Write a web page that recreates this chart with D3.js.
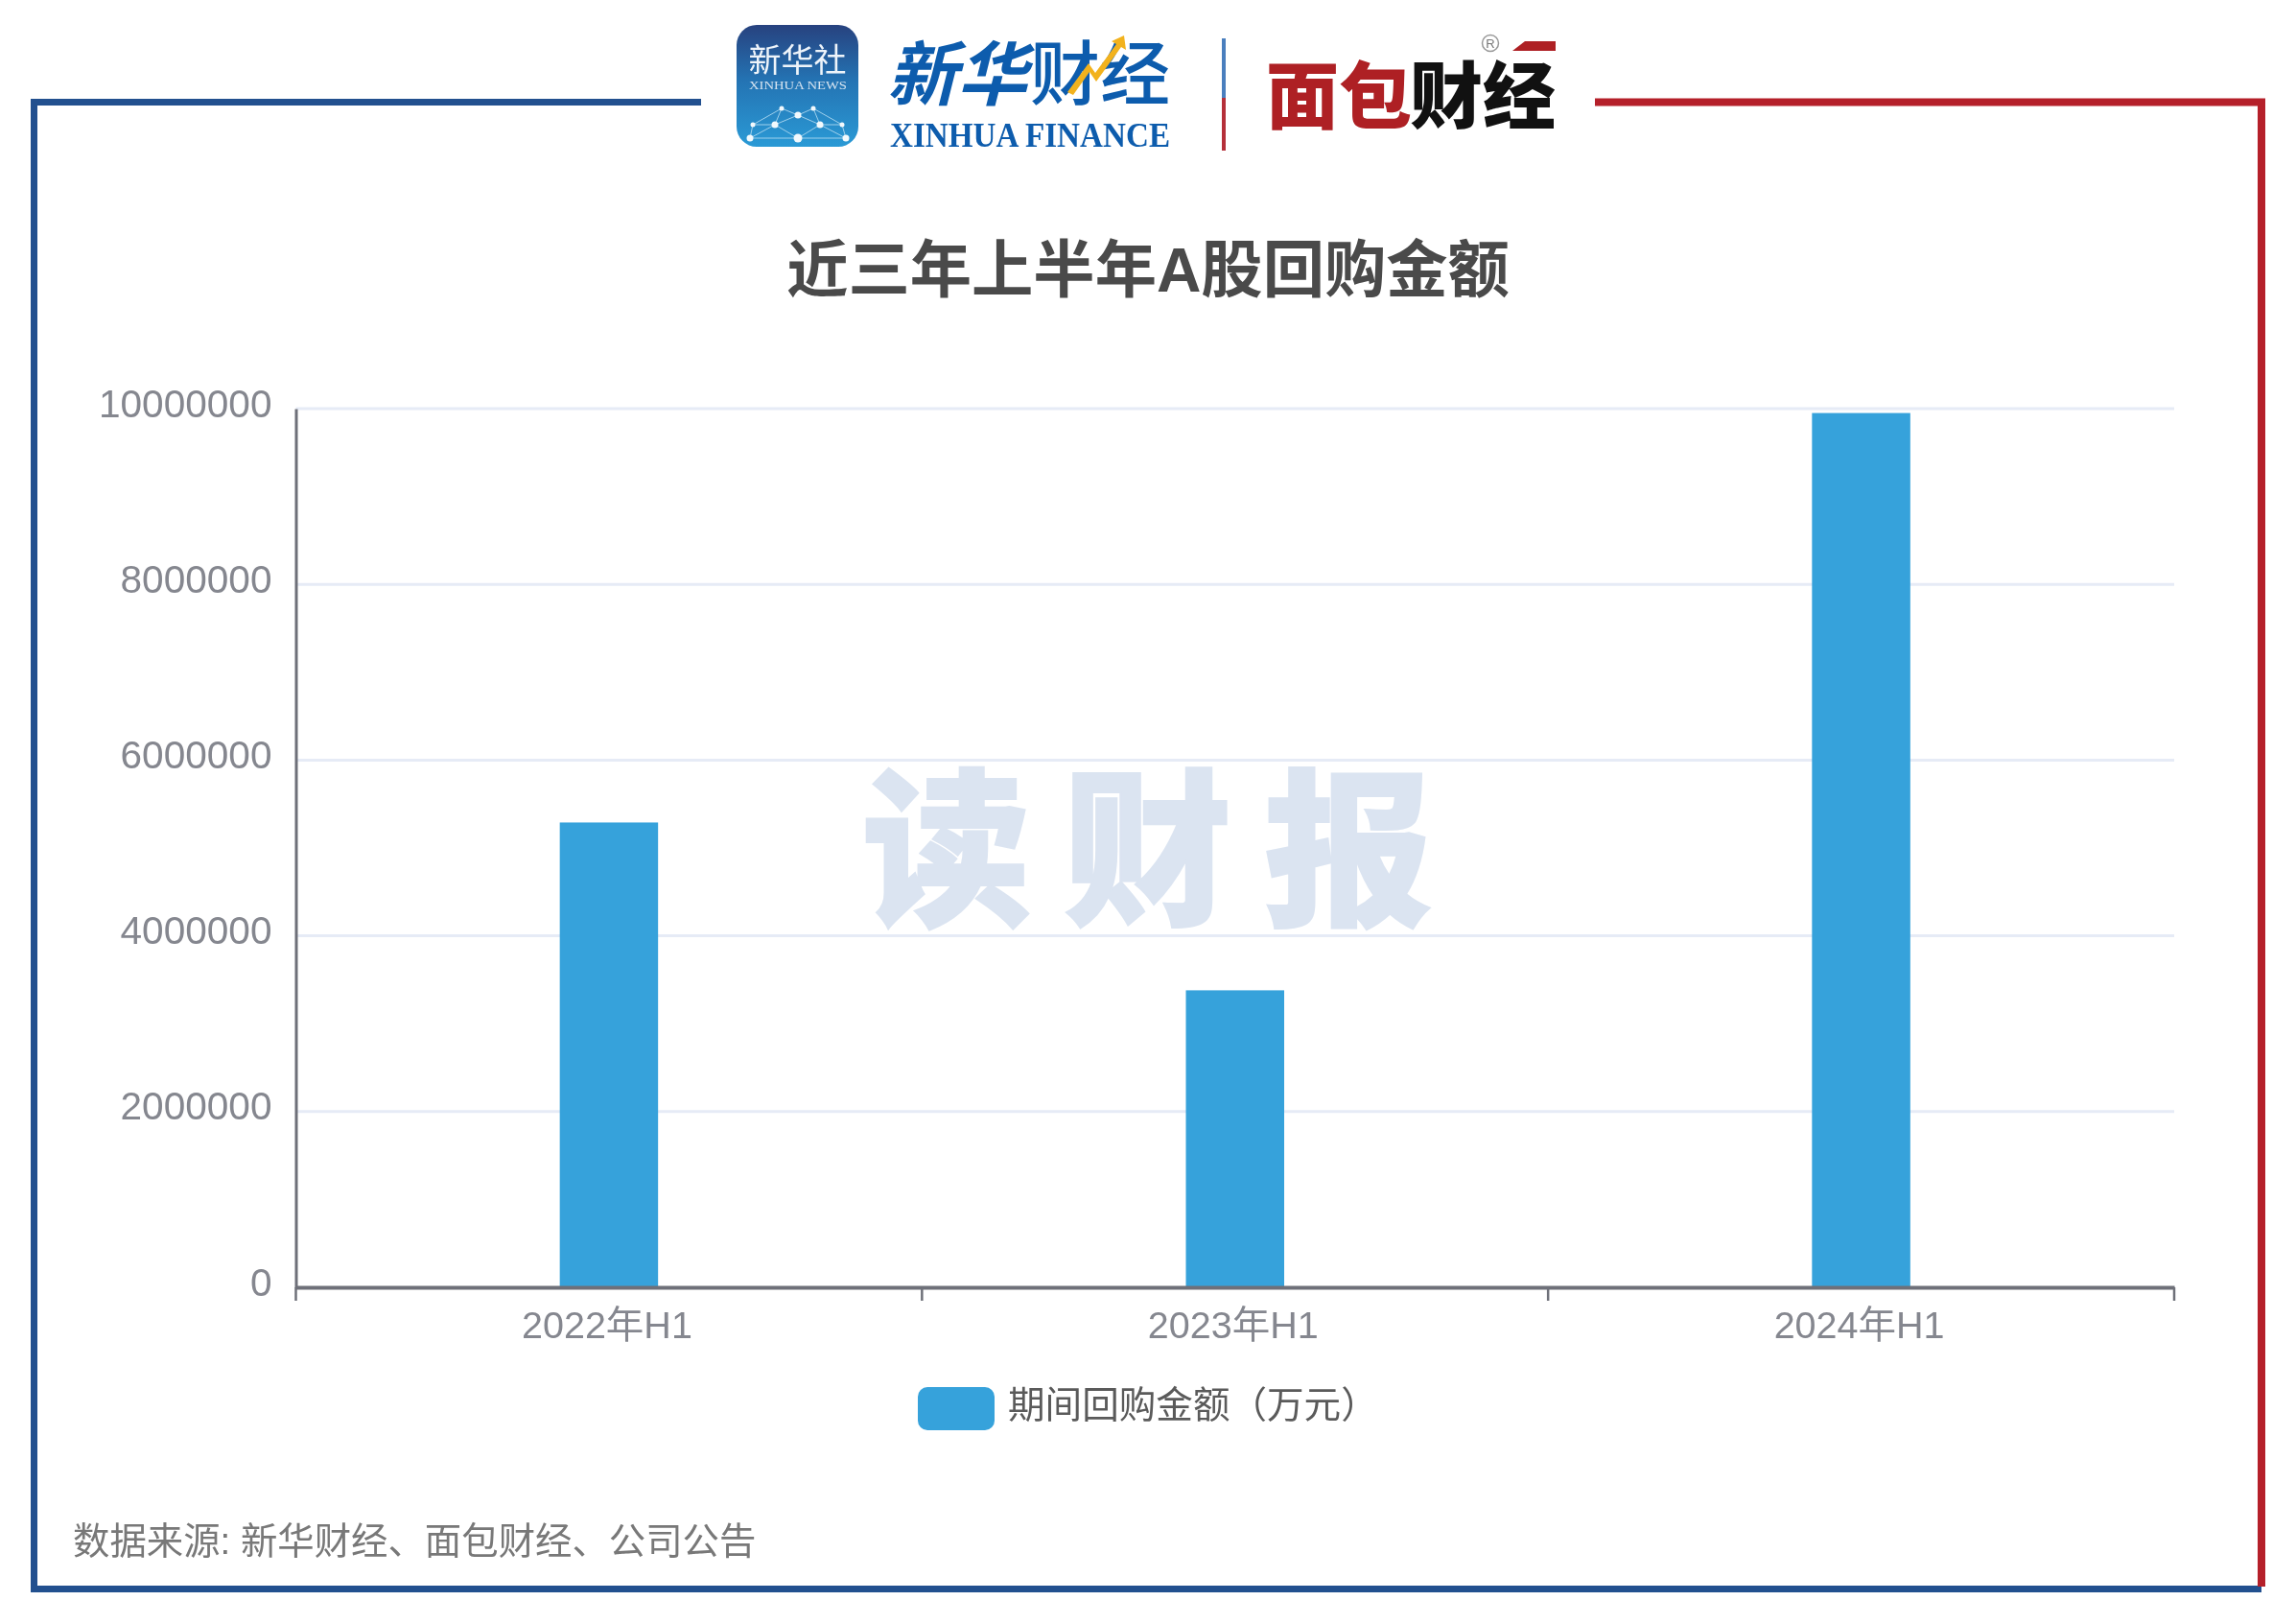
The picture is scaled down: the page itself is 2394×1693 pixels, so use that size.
<!DOCTYPE html>
<html lang="zh">
<head>
<meta charset="utf-8">
<title>近三年上半年A股回购金额</title>
<script src="https://cdn.jsdelivr.net/npm/d3@7"></script>
<style>
html,body{margin:0;padding:0;background:#fff}
svg{display:block}
text{font-family:"Liberation Sans","Noto Sans CJK SC",sans-serif;filter:blur(0.6px)}
.cjk{font-family:"Noto Sans CJK SC",sans-serif}
.serif{font-family:"Liberation Serif",serif}
</style>
</head>
<body>
<svg id="chart" width="2394" height="1693" viewBox="0 0 2394 1693" xmlns="http://www.w3.org/2000/svg"></svg>
<script>
const categories = ["2022年H1", "2023年H1", "2024年H1"];
const seriesName = "期间回购金额（万元）";
const seriesValues = [5290000, 3380000, 9950000];
const yTicks = [0, 2000000, 4000000, 6000000, 8000000, 10000000];
const chartTitle = "近三年上半年A股回购金额";
const sourceNote = "数据来源: 新华财经、面包财经、公司公告";
const watermarkChars = ["读", "财", "报"];

const svg = d3.select("#chart");
const W = 2394, H = 1693;
const plot = {left: 308.5, right: 2267, top: 426, bottom: 1342};
const BAR = "#36a2db", AXIS = "#6e7079", GRID = "#e6ebf6", LABEL = "#85878f";
const BLUE = "#22508f", RED = "#b5202a";

svg.append("rect").attr("width", W).attr("height", H).attr("fill", "#fff");

// Scales
const x = d3.scaleBand().domain(categories).range([plot.left, plot.right]);
const y = d3.scaleLinear().domain([0, 10000000]).range([plot.bottom, plot.top]);

// Frame
const frame = svg.append("g").attr("fill", "none").attr("stroke-width", 7);
frame.append("path").attr("stroke", BLUE).attr("d", "M731,106.5H35.5V1656.5H2358");
frame.append("path").attr("stroke", RED).attr("stroke-width", 8).attr("d", "M1663,106.5H2358V1654");

// Grid
svg.append("g").selectAll("line").data(yTicks.slice(1)).join("line")
  .attr("x1", plot.left).attr("x2", plot.right)
  .attr("y1", d => y(d)).attr("y2", d => y(d))
  .attr("stroke", GRID).attr("stroke-width", 3);

// Watermark
const wmX = d3.scalePoint().domain(watermarkChars).range([987, 1406]);
svg.append("g").selectAll("text").data(watermarkChars).join("text")
  .attr("class", "cjk")
  .attr("x", d => wmX(d)).attr("y", 951)
  .attr("text-anchor", "middle")
  .attr("font-size", 176).attr("font-weight", 900)
  .attr("fill", "#dbe4f1").attr("stroke", "#dbe4f1").attr("stroke-width", 2)
  .text(d => d);

// Bars
const barW = x.bandwidth() * 0.157;
svg.append("g").selectAll("rect").data(seriesValues).join("rect")
  .attr("x", (d, i) => x(categories[i]) + x.bandwidth() / 2 - barW / 2)
  .attr("width", barW)
  .attr("y", d => y(d))
  .attr("height", d => y(0) - y(d))
  .attr("fill", BAR);

// Y axis
const yAxis = svg.append("g")
  .attr("transform", `translate(${plot.left},0)`)
  .call(d3.axisLeft(y).tickValues(yTicks).tickFormat(d3.format("d")).tickSize(0).tickPadding(25));
yAxis.select(".domain").attr("stroke", AXIS).attr("stroke-width", 3);
yAxis.selectAll("text").attr("font-size", 40.6).attr("fill", LABEL)
  .attr("font-family", null).attr("dy", "0.32em").attr("y", -5);

// X axis
const xAxis = svg.append("g")
  .attr("transform", `translate(0,${plot.bottom})`)
  .call(d3.axisBottom(x).tickSize(0).tickPadding(25));
xAxis.select(".domain").attr("stroke", AXIS).attr("stroke-width", 4);
xAxis.selectAll("text").attr("font-size", 39.5).attr("fill", LABEL)
  .attr("font-family", null).attr("dx", -2);
const boundaries = categories.map(c => x(c)).concat([x(categories[categories.length - 1]) + x.bandwidth()]);
xAxis.selectAll("line.boundary").data(boundaries).join("line")
  .attr("class", "boundary")
  .attr("x1", d => d).attr("x2", d => d).attr("y1", 0).attr("y2", 14)
  .attr("stroke", AXIS).attr("stroke-width", 2.5);

// Title
svg.append("text").attr("x", 1197).attr("y", 304)
  .attr("text-anchor", "middle").attr("font-size", 64.3).attr("font-weight", 700)
  .attr("fill", "#4a4a4a").text(chartTitle);

// Legend
svg.append("rect").attr("x", 957).attr("y", 1446).attr("width", 80).attr("height", 45)
  .attr("rx", 10).attr("fill", BAR);
svg.append("text").attr("class", "cjk").attr("x", 1051).attr("y", 1478)
  .attr("font-size", 38.6).attr("fill", "#5a5a5a").text(seriesName);

// Source
svg.append("text").attr("x", 76).attr("y", 1620)
  .attr("font-size", 38.4).attr("fill", "#787878").text(sourceNote);

// ---- Logo: Xinhua icon ----
const defs = svg.append("defs");
const grad = defs.append("linearGradient").attr("id", "xh").attr("x1", 0).attr("y1", 0).attr("x2", 0).attr("y2", 1);
[[0, "#27427f"], [0.45, "#2473b3"], [1, "#2a9ad6"]].forEach(s =>
  grad.append("stop").attr("offset", s[0]).attr("stop-color", s[1]));

const logo = svg.append("g");
logo.append("rect").attr("x", 768).attr("y", 26).attr("width", 127).attr("height", 127)
  .attr("rx", 21).attr("fill", "url(#xh)");
logo.append("text").attr("class", "cjk").attr("x", 831.5).attr("y", 75)
  .attr("text-anchor", "middle").attr("font-size", 34).attr("fill", "#eef4fa").text("新华社");
logo.append("text").attr("class", "serif").attr("x", 781).attr("y", 93)
  .attr("font-size", 13).attr("textLength", 102).attr("lengthAdjust", "spacingAndGlyphs")
  .attr("fill", "#d5e3f0").text("XINHUA NEWS");

const netNodes = [[815,113,2.5],[832,120,3.5],[848,113,2.5],[785,130,2.5],[808,130,3.5],[855,130,3.5],[878,130,2.5],[782,144,3.5],[832,144,4.5],[882,144,3.5]];
const netLinks = [[0,1],[1,2],[0,3],[2,6],[0,4],[1,4],[1,5],[2,5],[3,4],[5,6],[3,7],[6,9],[4,7],[4,8],[5,8],[5,9],[7,8],[8,9]];
logo.append("g").selectAll("line").data(netLinks).join("line")
  .attr("x1", d => netNodes[d[0]][0]).attr("y1", d => netNodes[d[0]][1])
  .attr("x2", d => netNodes[d[1]][0]).attr("y2", d => netNodes[d[1]][1])
  .attr("stroke", "#9fd0ec").attr("stroke-width", 1);
logo.append("g").selectAll("circle").data(netNodes).join("circle")
  .attr("cx", d => d[0]).attr("cy", d => d[1]).attr("r", d => d[2]).attr("fill", "#f2f9fd");

// ---- Logo: Xinhua Finance wordmark ----
const XF = "#0d5cad";
logo.append("text").attr("class", "cjk").attr("x", 925).attr("y", 104)
  .attr("font-style", "italic")
  .attr("font-size", 73).attr("font-weight", 700).attr("fill", XF).text("新华");
logo.append("text").attr("class", "cjk").attr("x", 1074).attr("y", 103)
  .attr("font-size", 73).attr("font-weight", 500).attr("fill", XF).text("财经");
logo.append("path").attr("d", "M1113,96L1135,66L1142,76L1164,46L1159,43L1172,37L1174,52L1169,49L1143,85L1136,75L1119,99Z")
  .attr("fill", "#f2b21d");
logo.append("text").attr("class", "serif").attr("x", 928).attr("y", 153)
  .attr("font-size", 35).attr("font-weight", 700).attr("textLength", 292)
  .attr("lengthAdjust", "spacingAndGlyphs").attr("fill", XF).text("XINHUA FINANCE");

// ---- Divider ----
logo.append("rect").attr("x", 1274).attr("y", 40).attr("width", 4).attr("height", 62).attr("fill", "#4a7fbe");
logo.append("rect").attr("x", 1274).attr("y", 102).attr("width", 4).attr("height", 55).attr("fill", "#b5303a");

// ---- Logo: Mianbao Finance wordmark ----
logo.append("text").attr("class", "cjk").attr("x", 1320).attr("y", 128)
  .attr("font-size", 76).attr("font-weight", 900).attr("fill", "#ae2024").text("面包");
logo.append("text").attr("class", "cjk").attr("x", 1470).attr("y", 128)
  .attr("font-size", 76).attr("font-weight", 900).attr("fill", "#111").text("财经");
logo.append("path").attr("d", "M1577,53L1590,43H1622V53Z").attr("fill", "#ae2024");
logo.append("circle").attr("cx", 1554).attr("cy", 45).attr("r", 8.5)
  .attr("fill", "none").attr("stroke", "#999").attr("stroke-width", 1.5);
logo.append("text").attr("x", 1554).attr("y", 50).attr("text-anchor", "middle")
  .attr("font-size", 13).attr("fill", "#777").text("R");
</script>
</body>
</html>
